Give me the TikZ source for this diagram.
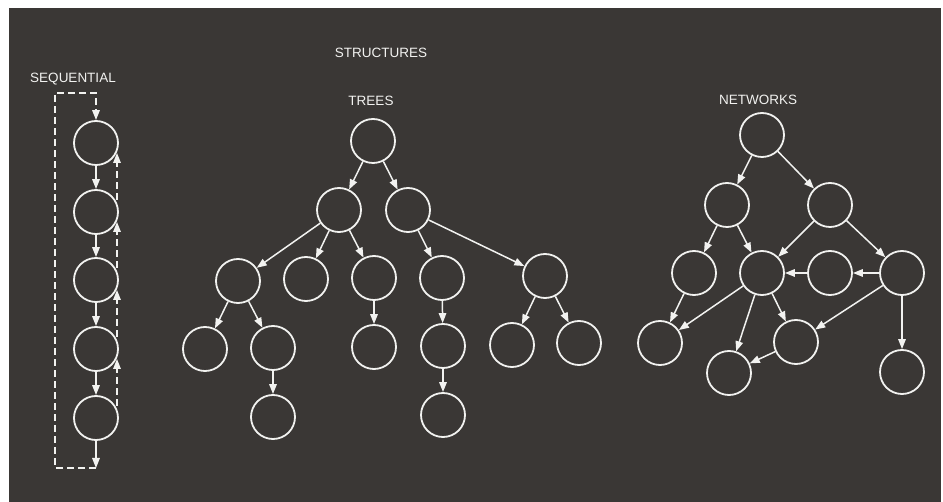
\documentclass[tikz,border=0pt]{standalone}
\usepackage{fontspec}
\setmainfont{Liberation Sans}
\usetikzlibrary{positioning,calc,arrows.meta}

\definecolor{board}{RGB}{58,55,53}
\definecolor{chalk}{RGB}{242,242,240}

\tikzset{
  cell/.style={circle,draw=chalk,line width=1.8pt,minimum size=44pt,inner sep=0pt},
  link/.style={draw=chalk,line width=1.5pt,-{Triangle[length=10pt,width=7.5pt]}},
  backlink/.style={link,dash pattern=on 7pt off 4pt},
  heading/.style={text=chalk,font=\fontsize{13.5}{15}\selectfont},
}

\begin{document}
\begin{tikzpicture}[x=1pt,y=-1pt]
    \useasboundingbox (0,0) rectangle (943,502);
    \fill[white] (0,0) rectangle (943,502);
    \fill[board] (9,8) rectangle (941,502);

    % labels
    \node[heading] (seqlabel) at (73,79) {SEQUENTIAL};
    \node[heading] (structlabel) at (381,53) {STRUCTURES};
    \node[heading] (treelabel) at (371,101) {TREES};
    \node[heading] (netlabel) at (758,100) {NETWORKS};

    % sequential
    \foreach \i/\y in {1/143,2/212,3/280,4/349,5/418}
        \node[cell] (s\i) at (96,\y) {};
    \foreach \i/\j in {1/2,2/3,3/4,4/5}
        \draw[link] (s\i) -- (s\j);
    \foreach \i/\j in {2/1,3/2,4/3,5/4}
        \draw[backlink] ($(s\i.center)+(21,-12)$) -- ($(s\j.center)+(21,10)$);
    \coordinate (seqend) at (96,468);
    \coordinate (seqcorner) at (55,93);
    \coordinate (seqtop) at (96,93);
    \draw[link] (s5) -- (seqend);
    \draw[backlink] (seqend) -| (seqcorner) -- (seqtop) -- (s1);

    % trees
    \node[cell] (t0) at (373,141) {};
    \node[cell] (t1) at (339,210) {};
    \node[cell] (t2) at (408,210) {};
    \node[cell] (t11) at (238,281) {};
    \node[cell] (t12) at (306,279) {};
    \node[cell] (t13) at (374,278) {};
    \node[cell] (t21) at (442,278) {};
    \node[cell] (t22) at (545,276) {};
    \node[cell] (t111) at (205,349) {};
    \node[cell] (t112) at (273,348) {};
    \node[cell] (t131) at (374,347) {};
    \node[cell] (t211) at (443,346) {};
    \node[cell] (t221) at (512,345) {};
    \node[cell] (t222) at (579,343) {};
    \node[cell] (t1121) at (273,417) {};
    \node[cell] (t2111) at (443,415) {};
    \foreach \a/\b in {t0/t1,t0/t2,t1/t11,t1/t12,t1/t13,t2/t21,t2/t22,
                       t11/t111,t11/t112,t13/t131,t21/t211,t22/t221,t22/t222,
                       t112/t1121,t211/t2111}
        \draw[link] (\a) -- (\b);

    % networks
    \node[cell] (n1) at (762,135) {};
    \node[cell] (n2) at (727,205) {};
    \node[cell] (n3) at (830,205) {};
    \node[cell] (n4) at (694,273) {};
    \node[cell] (n5) at (762,273) {};
    \node[cell] (n6) at (830,273) {};
    \node[cell] (n7) at (902,273) {};
    \node[cell] (n8) at (660,343) {};
    \node[cell] (n9) at (796,342) {};
    \node[cell] (n10) at (729,373) {};
    \node[cell] (n11) at (902,372) {};
    \foreach \a/\b in {n1/n2,n1/n3,n2/n4,n2/n5,n3/n5,n3/n7,n7/n6,n6/n5,
                       n4/n8,n5/n8,n5/n10,n5/n9,n7/n9,n9/n10,n7/n11}
        \draw[link] (\a) -- (\b);
\end{tikzpicture}
\end{document}
